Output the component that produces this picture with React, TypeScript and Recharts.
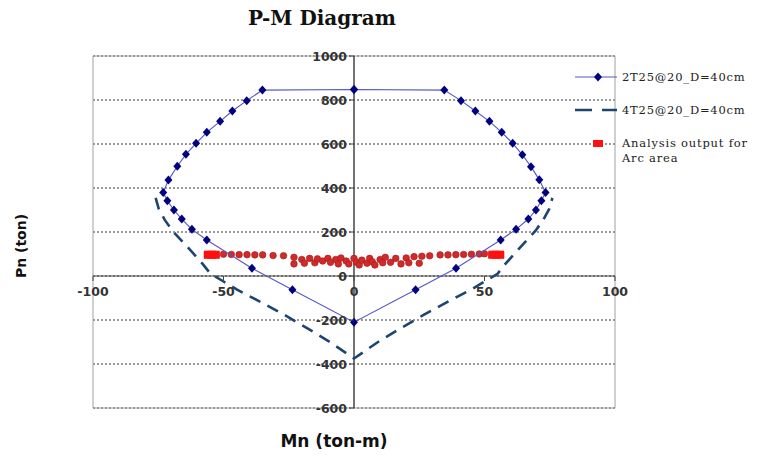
import { ScatterChart, Scatter, XAxis, YAxis, CartesianGrid, ReferenceLine, ReferenceArea } from 'recharts';

const W = 757;
const H = 456;
const M = { top: 56, right: 142, bottom: 47, left: 92 };
const X_DOMAIN = [-100, 100];
const Y_DOMAIN = [-600, 1000];
const X_TICKS = [-100, -50, 0, 50, 100];
const Y_TICKS = [-600, -400, -200, 0, 200, 400, 600, 800, 1000];

// 2T25@20_D=40cm (closed curve, diamonds)
const mn2T = [0, 34.6, 41, 46.5, 51.9, 56.6, 60.8, 64.5, 67.8, 71, 73.4, 71.8, 69.7, 66.8, 62.1, 56.2, 39.1, 23.6, 0,
  -23.6, -39.1, -56.4, -62.1, -66, -69, -71.5, -73.1, -71.1, -67.7, -64.4, -60.5, -56.4, -51.3, -46.6, -41.1, -35.1, 0];
const pn2T = [848, 845, 797, 750, 703, 653, 603, 551, 497, 437, 380, 342, 300, 259, 212, 164, 35, -63, -210,
  -63, 35, 164, 212, 259, 300, 342, 380, 436, 499, 553, 603, 653, 703, 750, 797, 845, 848];

// 4T25@20_D=40cm (open dashed curve)
const mn4T = [-76, -74.8, -72.5, -69.5, -66, -62, -58, -55, -50, -44.8, -35.5, -26.5, -17.5, -9.2, 0,
  9.2, 17.5, 26.5, 35.5, 44.8, 50, 55, 58, 62, 66, 69.5, 72.5, 74.8, 76];
const pn4T = [355, 305, 255, 205, 160, 108, 55, 10, -25, -62, -120, -178, -240, -300, -375,
  -300, -240, -178, -120, -62, -25, 10, 55, 108, 160, 205, 255, 305, 355];

// Analysis output for Arc area (circles)
const mnArc = [-50, -47, -44, -41, -38, -35, -31, -27, -23, -23, -20, -19, -17, -15, -14, -12, -10, -9, -7, -6, -5, -3, -2,
  0, 1, 2, 3, 5, 6, 7, 8, 10, 11, 12, 14, 16, 18, 20, 21, 23, 25, 26, 29, 33, 36, 39, 42, 45, 48, 50];
const pnArc = [99, 98, 97, 97, 96, 96, 93, 92, 85, 55, 75, 58, 80, 60, 78, 68, 80, 62, 75, 55, 82, 68, 55,
  80, 62, 50, 72, 58, 80, 65, 50, 75, 60, 85, 62, 80, 55, 82, 60, 88, 58, 90, 92, 96, 96, 97, 98, 99, 100, 101];

// Analysis output for Arc area (squares at the ends)
const mnArcEnd = [-56, -54.5, -53, -56, -54.5, -53, 53, 54.5, 56, 53, 54.5, 56];
const pnArcEnd = [94, 94, 94, 99, 99, 99, 94, 94, 94, 99, 99, 99];

const zip = (xs: number[], ys: number[]) => xs.map((mn, i) => ({ mn, pn: ys[i] }));

const solid = zip(mn2T, pn2T);
const dashed = zip(mn4T, pn4T);
const arc = zip(mnArc, pnArc);
const arcEnd = zip(mnArcEnd, pnArcEnd);

const PLOT_W = W - M.left - M.right - 1;
const PLOT_H = H - M.top - M.bottom - 1;
const ZERO_X = (PLOT_W * (0 - X_DOMAIN[0])) / (X_DOMAIN[1] - X_DOMAIN[0]);
const ZERO_UP = (PLOT_H * (0 - Y_DOMAIN[0])) / (Y_DOMAIN[1] - Y_DOMAIN[0]);

const SOLID = '#5656c4';
const NAVY = '#000080';
const DASH = '#1f4470';
const TICK_FONT = { fontFamily: 'DejaVu Sans', fontWeight: 700, fontSize: 12.5, fill: '#333' };

const XTick = (props: any) => {
  const { x, y, payload } = props;
  const zy = y - ZERO_UP;
  return (
    <g>
      <line x1={x} x2={x} y1={zy} y2={zy + 5} stroke="#444" />
      <text x={x} y={zy + 20} textAnchor="middle" {...TICK_FONT}>{payload.value}</text>
    </g>
  );
};

const YTick = (props: any) => {
  const { x, y, payload } = props;
  const ax = x + ZERO_X;
  return (
    <g>
      <line x1={ax - 5} x2={ax} y1={y} y2={y} stroke="#444" />
      <text x={ax - 7} y={y + 4.5} textAnchor="end" {...TICK_FONT}>{payload.value}</text>
    </g>
  );
};

const Diamond = ({ cx, cy }: any) => (
  <polygon points={`${cx},${cy - 4.5} ${cx + 4},${cy} ${cx},${cy + 4.5} ${cx - 4},${cy}`} fill={NAVY} />
);
const NoDot = () => <g />;
const RedDot = ({ cx, cy }: any) => <circle cx={cx} cy={cy} r={3.3} fill="#d02a2a" stroke="#a51a1a" strokeWidth={0.6} />;
const RedSquare = ({ cx, cy }: any) => <rect x={cx - 4} y={cy - 3.5} width={8} height={7} fill="#ff1010" />;

const LEGEND_TEXT = { fontFamily: 'DejaVu Serif', fontSize: 11.5, letterSpacing: 0.8, fill: '#222' };

export default function App() {
  return (
    <div style={{ position: 'relative', width: W, height: H, background: '#fff' }}>
      <style>{'body{margin:0}'}</style>
      <ScatterChart width={W} height={H} margin={M}>
        <CartesianGrid vertical={false} stroke="#333" strokeDasharray="2 2" />
        <ReferenceArea x1={-100} x2={100} y1={-600} y2={1000} fill="none" stroke="#a0a0a0" />
        <XAxis type="number" dataKey="mn" domain={X_DOMAIN} ticks={X_TICKS} interval={0} height={1}
          tickSize={0} tickMargin={0} axisLine={false} tick={XTick} />
        <YAxis type="number" dataKey="pn" domain={Y_DOMAIN} ticks={Y_TICKS} interval={0} width={1}
          tickSize={0} tickMargin={0} axisLine={false} tick={YTick} />
        <ReferenceLine x={0} stroke="#444" strokeWidth={1.5} />
        <ReferenceLine y={0} stroke="#444" strokeWidth={1.2} />
        <Scatter data={dashed} shape={NoDot} line={{ stroke: DASH, strokeWidth: 2.6, strokeDasharray: '12 8' }}
          lineType="joint" isAnimationActive={false} />
        <Scatter data={arc} shape={RedDot} isAnimationActive={false} />
        <Scatter data={arcEnd} shape={RedSquare} isAnimationActive={false} />
        <Scatter data={solid} shape={Diamond} line={{ stroke: SOLID, strokeWidth: 1.1 }}
          lineType="joint" isAnimationActive={false} />
      </ScatterChart>
      <svg width={W} height={H} style={{ position: 'absolute', left: 0, top: 0, pointerEvents: 'none' }}>
        <text x={322} y={25} textAnchor="middle" fontFamily="DejaVu Serif" fontWeight={700} fontSize={20} fill="#111">
          P-M Diagram
        </text>
        <text transform="translate(26,246) rotate(-90)" textAnchor="middle" fontFamily="DejaVu Sans"
          fontWeight={700} fontSize={14} fill="#111">Pn (ton)</text>
        <text x={334} y={447} textAnchor="middle" fontFamily="DejaVu Sans" fontWeight={700} fontSize={17} fill="#111">
          Mn (ton-m)
        </text>
        <line x1={575} x2={617} y1={77} y2={77} stroke={SOLID} strokeWidth={1.2} />
        <polygon points="598,72.5 602,77 598,81.5 594,77" fill={NAVY} />
        <text x={622} y={81} {...LEGEND_TEXT}>2T25@20_D=40cm</text>
        <line x1={575} x2={617} y1={110} y2={110} stroke={DASH} strokeWidth={2.6} strokeDasharray="17 10" />
        <text x={622} y={114} {...LEGEND_TEXT}>4T25@20_D=40cm</text>
        <rect x={593} y={140} width={10} height={7} fill="#ff1010" />
        <text x={622} y={147} {...LEGEND_TEXT}>Analysis output for</text>
        <text x={622} y={162} {...LEGEND_TEXT}>Arc area</text>
      </svg>
    </div>
  );
}
